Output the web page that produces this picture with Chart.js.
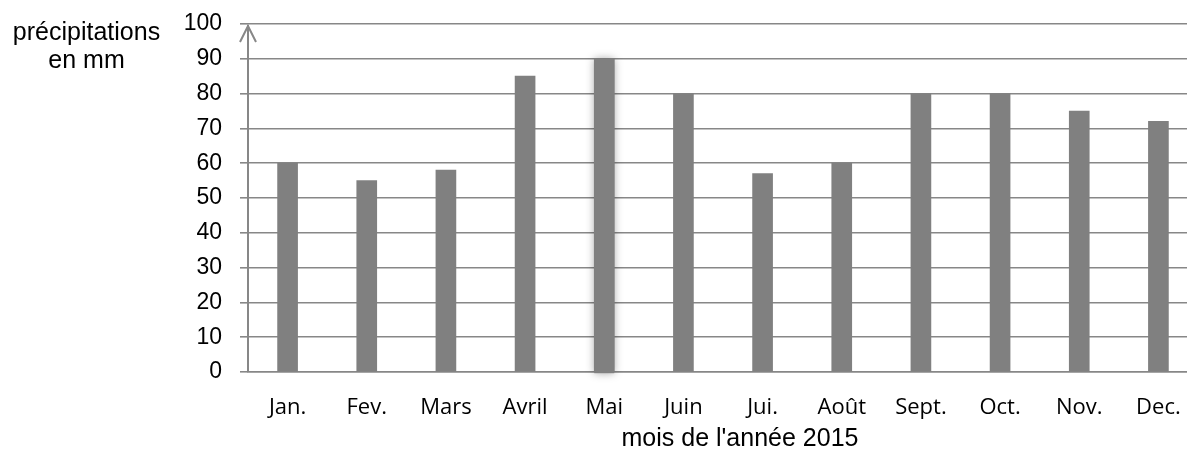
<!DOCTYPE html>
<html>
<head>
<meta charset="utf-8">
<script src="https://cdn.jsdelivr.net/npm/chart.js@4"></script>
<style>
  html, body { margin: 0; padding: 0; background: #fff; overflow: hidden; }
  #wrap { position: relative; width: 1198px; height: 454px; }
  .txt { position: absolute; font-family: "Liberation Sans", Arial, sans-serif; color: #000; white-space: nowrap; }
  #yTitle { left: 0; top: 17px; width: 173px; font-size: 25px; line-height: 28px; text-align: center; }
  #xTitle { left: 540px; top: 423px; width: 400px; font-size: 25px; line-height: 28px; text-align: center; }
</style>
</head>
<body>
<div id="wrap">
  <canvas id="rainChart" width="1198" height="454"></canvas>
  <div class="txt" id="yTitle">précipitations<br>en mm</div>
  <div class="txt" id="xTitle">mois de l'année 2015</div>
</div>
<script>
const months = ["Jan.", "Fev.", "Mars", "Avril", "Mai", "Juin", "Jui.", "Août", "Sept.", "Oct.", "Nov.", "Dec."];
const rainfall = [60, 55, 58, 85, 90, 80, 57, 60, 80, 80, 75, 72];
const yTicks = [0, 10, 20, 30, 40, 50, 60, 70, 80, 90, 100];
const highlighted = "Mai";

const gridGrey = "#878787";

// soft glow behind the selected bar
const barGlow = {
  id: "barGlow",
  beforeDatasetsDraw(chart) {
    const bar = chart.getDatasetMeta(0).data[months.indexOf(highlighted)];
    if (!bar) return;
    const p = bar.getProps(["x", "y", "base", "width"], true);
    const c = chart.ctx;
    c.save();
    c.shadowColor = "rgba(0,0,0,0.35)";
    c.shadowBlur = 9;
    c.fillStyle = "#808080";
    c.fillRect(p.x - p.width / 2, p.y, p.width, p.base - p.y + 2);
    c.restore();
  }
};

// y axis line with the small open arrow on top
const axisArrow = {
  id: "axisArrow",
  afterDatasetsDraw(chart) {
    const c = chart.ctx;
    const x = chart.chartArea.left;
    const top = chart.chartArea.top, bottom = chart.chartArea.bottom;
    c.save();
    c.strokeStyle = gridGrey;
    c.lineWidth = 2;
    c.beginPath();
    c.moveTo(x, bottom);
    c.lineTo(x, top + 1);
    c.moveTo(x - 8, top + 18);
    c.lineTo(x, top + 2);
    c.lineTo(x + 8, top + 18);
    c.stroke();
    c.restore();
  }
};

new Chart(document.getElementById("rainChart"), {
  type: "bar",
  data: {
    labels: months,
    datasets: [{
      data: rainfall,
      backgroundColor: "#808080",
      barThickness: 20
    }]
  },
  options: {
    responsive: false,
    animation: false,
    layout: { padding: { top: 24, left: 0, right: 0, bottom: 0 } },
    plugins: { legend: { display: false }, tooltip: { enabled: false } },
    scales: {
      x: {
        grid: { display: false, drawTicks: false },
        border: { display: true, color: gridGrey, width: 1.5 },
        ticks: {
          color: "#000",
          padding: 23,
          font: { family: "'Open Sans', sans-serif", size: 22 },
          maxRotation: 0
        },
        afterFit(scale) { scale.height = 82; scale.paddingLeft = 0; scale.paddingRight = 0; }
      },
      y: {
        min: 0,
        max: 100,
        afterBuildTicks(scale) { scale.ticks = yTicks.map(v => ({ value: v })); },
        grid: { color: gridGrey, lineWidth: 1.6, tickLength: 8 },
        border: { display: false },
        ticks: {
          color: "#000",
          padding: 18,
          font: { family: "'Liberation Sans', Arial, sans-serif", size: 23 }
        },
        afterFit(scale) { scale.width = 248; scale.paddingTop = 0; scale.paddingBottom = 0; }
      }
    }
  },
  plugins: [barGlow, axisArrow]
});
</script>
</body>
</html>
